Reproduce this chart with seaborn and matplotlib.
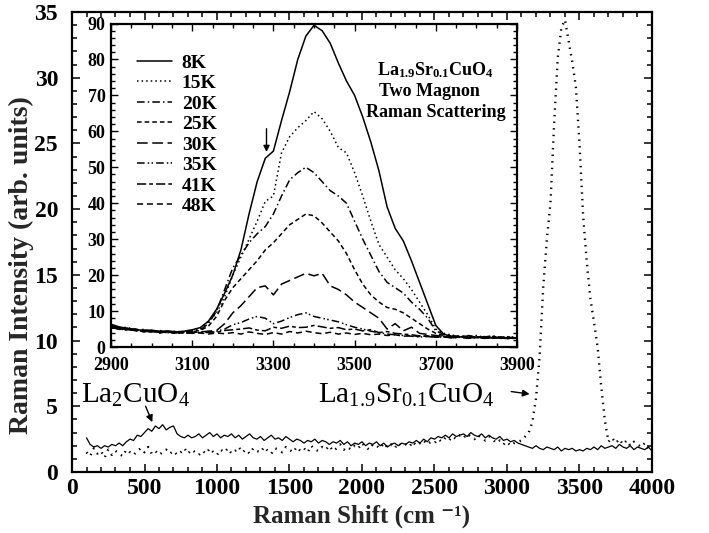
import numpy as np
import pandas as pd
import matplotlib
matplotlib.use("Agg")
import matplotlib.pyplot as plt
from matplotlib.ticker import MultipleLocator
import seaborn as sns

# ---------------- data ----------------
main_x = list(range(100, 4001, 25))
la2cuo4 = [
    2.6, 2.1, 1.9, 2.0, 1.8, 2.0, 1.9, 2.1,
    2.0, 2.2, 2.0, 2.3, 2.5, 2.4, 2.8, 2.7,
    3.0, 3.3, 3.1, 3.5, 3.3, 3.6, 3.2, 3.4,
    3.5, 2.9, 2.7, 2.6, 2.8, 2.6, 2.7, 2.9,
    2.6, 2.8, 3.0, 2.7, 2.9, 2.6, 2.8, 2.7,
    2.9, 2.6, 2.8, 2.5, 2.7, 2.9, 2.6, 2.5,
    2.7, 2.4, 2.6, 2.8, 2.5, 2.6, 2.4, 2.7,
    2.5, 2.3, 2.5, 2.4, 2.2, 2.4, 2.3, 2.5,
    2.2, 2.4, 2.3, 2.1, 2.3, 2.2, 2.4, 2.1,
    2.3, 2.0, 2.2, 2.1, 2.3, 2.0, 2.2, 2.1,
    2.3, 2.0, 2.2, 1.9, 2.1, 2.2, 2.0, 2.2,
    2.1, 2.3, 2.2, 2.4, 2.2, 2.5, 2.3, 2.6,
    2.5, 2.7, 2.6, 2.8, 2.6, 2.9, 2.7, 2.8,
    2.9, 2.7, 3.0, 2.8, 2.7, 2.9, 2.6, 2.8,
    2.6, 2.5, 2.7, 2.4, 2.5, 2.3, 2.4, 2.2,
    2.1, 2.0, 1.9, 1.8, 2.0, 1.8, 1.7, 1.9,
    1.8, 1.7, 1.9, 1.6, 1.8, 1.7, 1.8, 1.6,
    1.7, 1.6, 1.8, 1.7, 1.9, 1.7, 2.0, 1.8,
    1.9, 2.0, 1.8, 2.1, 1.9, 1.8, 2.0, 1.7,
    1.9, 1.8, 1.7, 1.9, 1.6,
]
la19sr01 = [
    1.5, 1.2, 1.8, 1.4, 1.6, 1.1, 1.7, 1.3,
    1.6, 1.4, 1.2, 1.7, 1.5, 1.3, 1.6, 1.8,
    1.5, 1.9, 1.4, 1.6, 1.3, 1.5, 1.7, 1.4,
    1.6, 1.3, 1.5, 1.8, 1.4, 1.7, 1.5, 1.3,
    1.6, 1.4, 1.8, 1.5, 1.3, 1.7, 1.5, 1.8,
    1.4, 1.6, 1.9, 1.5, 1.7, 1.4, 1.8, 1.6,
    1.5, 1.9, 1.6, 1.4, 1.8, 1.7, 1.5, 1.9,
    1.7, 1.5, 1.9, 1.6, 1.8, 1.5, 2.0, 1.7,
    1.6, 1.9, 1.7, 2.0, 1.6, 1.8, 2.1, 1.7,
    1.9, 1.7, 2.0, 1.8, 2.2, 1.9, 1.7, 2.1,
    2.0, 1.8, 2.2, 1.9, 2.1, 1.8, 2.2, 2.0,
    2.1, 1.9, 2.3, 2.0, 2.2, 2.4, 2.1, 2.3,
    2.2, 2.5, 2.3, 2.6, 2.4, 2.7, 2.5, 2.8,
    2.6, 2.9, 2.7, 2.5, 2.8, 2.6, 2.4, 2.7,
    2.5, 2.2, 2.4, 2.1, 2.3, 2.0, 2.2, 2.3,
    2.4, 2.7, 3.0, 3.8, 5.6, 8.8, 14.1, 17.7,
    20.5, 26.5, 31.5, 33.8, 34.4, 32.8, 31.2, 29.3,
    25.0, 19.5, 16.0, 13.2, 11.4, 9.5, 6.5, 3.9,
    2.3, 2.6, 2.2, 2.5, 2.1, 2.4, 2.0, 2.3,
    2.1, 1.9, 2.2, 1.8, 2.0,
]

inset_x = list(range(2900, 3901, 20))
temps = ["8K", "15K", "20K", "25K", "30K", "35K", "41K", "48K"]
t8 = [6.3, 5.6, 5.2, 4.9, 4.6, 4.7, 4.3, 4.5, 4.2, 4.4,
      4.8, 5.4, 7.2, 10.5, 15.0, 20.0, 27.0, 37.0, 46.0, 52.5,
      54.5, 63.0, 71.0, 80.0, 86.5, 89.5, 88.0, 84.5, 79.0, 74.0,
      70.0, 64.0, 57.0, 49.0, 39.0, 33.0, 29.5, 24.0, 18.0, 12.0,
      6.0, 3.5, 3.0, 2.8, 3.1, 2.6, 2.9, 2.5, 2.8, 2.4, 2.6]
t15 = [6.0, 5.3, 5.5, 4.6, 4.9, 4.3, 4.6, 4.1, 4.4, 4.0,
       4.5, 5.0, 7.0, 9.5, 14.0, 20.0, 25.0, 30.0, 35.0, 40.5,
       42.0, 54.0, 58.5, 61.0, 63.0, 65.5, 63.5, 60.0, 55.5, 54.0,
       48.5, 42.0, 35.0, 28.5, 25.0, 21.5, 19.0, 16.0, 12.5, 9.0,
       5.0, 3.8, 3.3, 3.0, 2.8, 3.2, 2.7, 3.0, 2.6, 2.9, 2.7]
t20 = [5.8, 5.0, 5.2, 4.4, 4.7, 4.5, 4.0, 4.4, 3.9, 4.3,
       4.4, 4.8, 6.5, 10.0, 16.0, 22.0, 25.5, 29.0, 31.5, 33.5,
       37.0, 42.0, 46.5, 48.5, 50.0, 48.5, 46.0, 43.5, 42.0, 40.0,
       35.0, 30.0, 25.5, 21.0, 18.0, 16.5, 15.0, 12.5, 10.5, 8.0,
       4.5, 3.5, 3.1, 2.9, 3.2, 2.7, 2.8, 3.1, 2.6, 2.8, 2.5]
t25 = [5.5, 5.2, 4.8, 4.7, 4.3, 4.6, 4.1, 4.2, 4.0, 4.2,
       4.3, 4.6, 5.8, 8.5, 13.0, 16.5, 19.0, 21.5, 24.0, 27.0,
       29.0, 31.5, 34.0, 35.5, 37.0, 36.5, 34.5, 32.0, 29.5, 26.0,
       21.5, 17.5, 14.5, 12.5, 11.0, 10.5, 9.5, 8.0, 6.5, 5.0,
       3.8, 3.2, 2.9, 3.0, 2.6, 2.8, 2.5, 2.9, 2.7, 2.4, 2.6]
t30 = [5.6, 4.9, 5.1, 4.5, 4.4, 4.2, 4.4, 3.9, 4.1, 3.8,
       4.0, 4.2, 4.4, 4.6, 6.5, 9.5, 11.5, 14.0, 16.5, 17.0,
       14.5, 17.5, 18.5, 19.5, 20.5, 19.8, 20.5, 17.0, 16.0, 14.5,
       12.5, 11.0, 9.5, 8.0, 5.0, 6.5, 4.5, 5.5, 3.8, 3.5,
       3.2, 3.0, 2.7, 2.9, 2.6, 2.8, 2.5, 2.7, 2.4, 2.6, 2.5]
t35 = [5.4, 5.0, 4.7, 4.8, 4.3, 4.4, 4.0, 4.2, 3.8, 4.0,
       3.9, 4.1, 4.0, 4.4, 5.0, 6.2, 6.8, 7.8, 8.5, 8.0,
       6.5, 7.2, 8.2, 9.0, 9.5, 8.5, 8.0, 7.5, 7.0, 6.2,
       5.5, 5.0, 4.4, 4.0, 3.6, 3.4, 3.2, 3.0, 2.8, 2.9,
       2.7, 2.8, 2.5, 2.7, 2.4, 2.6, 2.8, 2.5, 2.7, 2.4, 2.6]
t41 = [5.9, 5.4, 4.9, 5.0, 4.5, 4.2, 4.5, 4.0, 4.3, 3.9,
       4.1, 4.0, 4.3, 4.1, 4.6, 4.8, 5.0, 5.3, 4.7, 4.5,
       5.5, 5.2, 5.8, 5.4, 5.5, 6.0, 5.6, 5.2, 5.4, 4.8,
       5.0, 4.5, 4.8, 4.0, 4.3, 3.8, 3.6, 3.4, 3.1, 3.0,
       2.8, 2.9, 2.6, 2.8, 2.5, 2.7, 2.4, 2.6, 2.5, 2.7, 2.4]
t48 = [5.2, 5.5, 4.6, 4.9, 4.2, 4.5, 3.9, 4.3, 3.7, 4.1,
       3.8, 3.9, 3.6, 3.9, 3.7, 4.0, 3.6, 4.2, 3.8, 3.5,
       4.0, 3.6, 4.3, 3.9, 4.4, 4.0, 3.7, 4.1, 3.6, 3.9,
       3.5, 3.8, 3.4, 3.6, 3.2, 3.4, 3.0, 3.2, 2.9, 3.1,
       2.7, 2.9, 2.6, 2.8, 2.5, 2.7, 2.4, 2.6, 2.5, 2.3, 2.5]
inset_series = [t8, t15, t20, t25, t30, t35, t41, t48]
styles = ["-", (0, (1, 2)), (0, (5, 2, 1, 2)), (0, (3, 2)), (0, (7, 3)),
          (0, (5, 2, 1, 1.5, 1, 2)), (0, (6, 2, 2.5, 2)), (0, (4, 2.5))]

# ---------------- style ----------------
sns.set_theme(style="ticks")
plt.rcParams.update({
    "font.family": ["Liberation Serif", "DejaVu Serif"],
    "font.weight": "bold",
    "axes.labelweight": "bold",
    "mathtext.fontset": "custom",
    "mathtext.rm": "Liberation Serif:weight=normal",
    "mathtext.bf": "Liberation Serif:weight=bold",
    "mathtext.it": "Liberation Serif:italic",
    "axes.edgecolor": "black",
    "xtick.color": "black",
    "ytick.color": "black",
    "text.color": "black",
})

fig = plt.figure(figsize=(7.09, 5.33), dpi=100)
fig.patch.set_facecolor("white")

W, H = 709.0, 533.0
ax = fig.add_axes([72 / W, (H - 472) / H, (652 - 72) / W, (472 - 12) / H])
axi = fig.add_axes([111 / W, (H - 347) / H, (517 - 111) / W, (347 - 23.5) / H])

# main curves
sns.lineplot(x=main_x, y=la2cuo4, ax=ax, color="black", lw=0.9,
             estimator=None, sort=False, legend=False)
sns.lineplot(x=main_x, y=la19sr01, ax=ax, color="black", lw=1.7,
             linestyle=(0, (0.6, 2.2)), estimator=None, sort=False,
             legend=False)

ax.set_xlim(0, 4000)
ax.set_ylim(0, 35)
ax.xaxis.set_major_locator(MultipleLocator(500))
ax.xaxis.set_minor_locator(MultipleLocator(100))
ax.yaxis.set_major_locator(MultipleLocator(5))
ax.yaxis.set_minor_locator(MultipleLocator(1))
ax.tick_params(which="both", direction="in", top=True, right=True,
               width=1.1, labelsize=17)
ax.tick_params(which="major", length=6)
ax.tick_params(which="minor", length=3.5)
ax.tick_params(axis="x", pad=4)
ax.tick_params(axis="y", pad=10)
for s in ax.spines.values():
    s.set_linewidth(1.6)
ax.set_xlabel("Raman Shift (cm \u207b\u00b9)", fontsize=18)
ax.xaxis.set_label_coords(0.5, -0.070)
ax.set_ylabel("Raman Intensity (arb. units)", fontsize=20)
ax.yaxis.set_label_coords(-0.066, 0.45)

ax.text(65, 5.25, r"La$_{\mathrm{2}}$CuO$_{\mathrm{4}}$", fontsize=21,
        fontweight="normal", ha="left", va="baseline")
ax.annotate("", xy=(561, 3.6), xytext=(500, 5.2),
            arrowprops=dict(arrowstyle="-|>", color="black", lw=1.0,
                            mutation_scale=10))
ax.text(1700, 5.25, r"La$_{\mathrm{1.9}}$Sr$_{\mathrm{0.1}}$CuO$_{\mathrm{4}}$",
        fontsize=21, fontweight="normal", ha="left", va="baseline")
ax.annotate("", xy=(3175, 5.9), xytext=(3010, 6.15),
            arrowprops=dict(arrowstyle="-|>", color="black", lw=1.0,
                            mutation_scale=10))

# inset curves
for lab, ys, ls in zip(temps, inset_series, styles):
    sns.lineplot(x=inset_x, y=ys, ax=axi, color="black", lw=1.1,
                 linestyle=ls, label=lab, estimator=None, sort=False)

axi.set_facecolor("white")
axi.set_xlim(2900, 3900)
axi.set_ylim(0, 90)
axi.xaxis.set_major_locator(MultipleLocator(200, offset=100))
axi.xaxis.set_minor_locator(MultipleLocator(50))
axi.yaxis.set_major_locator(MultipleLocator(10))
axi.yaxis.set_minor_locator(MultipleLocator(2))
axi.tick_params(which="both", direction="in", top=True, right=True,
                width=1.0, labelsize=13)
axi.tick_params(axis="x", pad=7)
axi.tick_params(axis="y", pad=4)
axi.tick_params(which="major", length=5)
axi.tick_params(which="minor", length=3)
for s in axi.spines.values():
    s.set_linewidth(1.6)
axi.set_xlabel("")
axi.set_ylabel("")

axi.legend(loc="upper left", bbox_to_anchor=(0.045, 0.93), frameon=False,
           fontsize=14, handlelength=1.8, handletextpad=0.5,
           labelspacing=0.15, borderaxespad=0)

axi.text(0.80, 0.855, r"La$_{\mathbf{1.9}}$Sr$_{\mathbf{0.1}}$CuO$_{\mathbf{4}}$",
         transform=axi.transAxes, fontsize=13, ha="center", va="center")
axi.text(0.785, 0.79, "Two Magnon", transform=axi.transAxes, fontsize=13,
         ha="center", va="center")
axi.text(0.80, 0.725, "Raman Scattering", transform=axi.transAxes,
         fontsize=13, ha="center", va="center")
axi.annotate("", xy=(3283, 53.5), xytext=(3283, 61.5),
             arrowprops=dict(arrowstyle="-|>", color="black", lw=1.0,
                             mutation_scale=9))

fig.savefig("out.png", dpi=100, facecolor="white")
